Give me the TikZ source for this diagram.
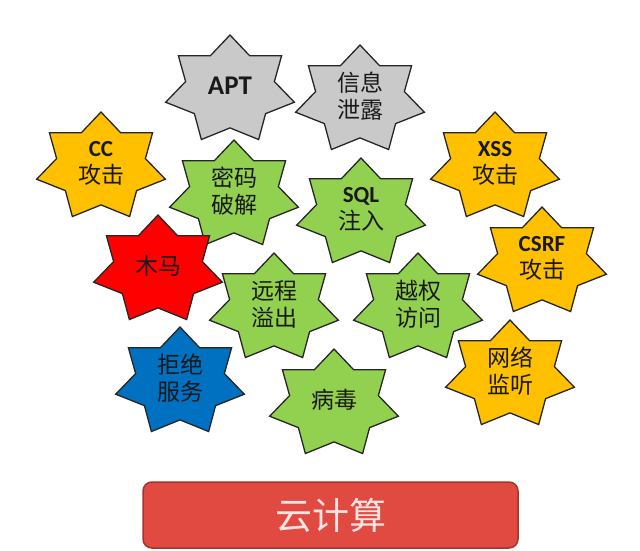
\documentclass[tikz,border=0pt]{standalone}
\usepackage{fontspec}
\setmainfont{Carlito}
\newfontfamily\cjk{Noto Sans CJK SC}
\usetikzlibrary{positioning, shapes.geometric}

\definecolor{stargray}{RGB}{201,201,201}
\definecolor{staryellow}{RGB}{255,192,0}
\definecolor{stargreen}{RGB}{146,208,80}
\definecolor{starred}{RGB}{255,0,0}
\definecolor{starblue}{RGB}{0,112,192}
\definecolor{cloudred}{RGB}{224,74,64}
\definecolor{cloudborder}{RGB}{165,52,46}
\definecolor{cloudtext}{RGB}{252,228,226}

\begin{document}
\begin{tikzpicture}[x=1pt, y=-1pt]
      % Define styles for nodes
      \tikzset{
        starnode/.style={star, star points=7, star point ratio=1.45, draw=black!85, line width=1.3pt,
          minimum size=132pt, inner sep=0pt, transform shape, yscale=0.833},
        graystar/.style={starnode, fill=stargray},
        yellowstar/.style={starnode, fill=staryellow},
        greenstar/.style={starnode, fill=stargreen},
        redstar/.style={starnode, fill=starred},
        bluestar/.style={starnode, fill=starblue},
        startext/.style={align=center, inner sep=0pt, yshift=4pt, text=black!90,
          font=\cjk\fontsize{23}{27}\selectfont},
        cloudbox/.style={rectangle, rounded corners=9pt, draw=cloudborder, line width=1.5pt,
          fill=cloudred, minimum width=375pt, minimum height=66pt, text=cloudtext,
          font=\cjk\fontsize{37}{37}\selectfont}
      }
      \newcommand{\lat}[1]{{\normalfont\bfseries\fontsize{23}{27}\selectfont #1}}
      \useasboundingbox (0,0) rectangle (640,551);

      % Create the stars
      \node[graystar] (apt) at (230,90) {};
      \node[graystar] (leak) at (360,100) {};
      \node[yellowstar] (cc) at (101,167) {};
      \node[yellowstar] (xss) at (495,167) {};
      \node[greenstar] (pwd) at (234,195) {};
      \node[greenstar] (sql) at (361,213) {};
      \node[redstar] (trojan) at (158,270) {};
      \node[yellowstar] (csrf) at (542,262) {};
      \node[greenstar] (overflow) at (274,308) {};
      \node[greenstar] (privilege) at (418,308) {};
      \node[bluestar] (dos) at (180,382) {};
      \node[greenstar] (virus) at (334,404) {};
      \node[yellowstar] (sniff) at (510,375) {};

      % Add the texts on the stars
      \node[startext] (apttext) at (apt) {{\normalfont\bfseries\fontsize{27}{27}\selectfont APT}};
      \node[startext] (leaktext) at (leak) {信息\\泄露};
      \node[startext] (cctext) at (cc) {\lat{CC}\\攻击};
      \node[startext] (xsstext) at (xss) {\lat{XSS}\\攻击};
      \node[startext] (pwdtext) at (pwd) {密码\\破解};
      \node[startext] (sqltext) at (sql) {\lat{SQL}\\注入};
      \node[startext] (trojantext) at (trojan) {木马};
      \node[startext] (csrftext) at (csrf) {\lat{CSRF}\\攻击};
      \node[startext] (overflowtext) at (overflow) {远程\\溢出};
      \node[startext] (privilegetext) at (privilege) {越权\\访问};
      \node[startext] (dostext) at (dos) {拒绝\\服务};
      \node[startext] (virustext) at (virus) {病毒};
      \node[startext] (snifftext) at (sniff) {网络\\监听};

      % The base box
      \node[cloudbox] (cloud) at (330.5,515) {云计算};
\end{tikzpicture}
\end{document}
